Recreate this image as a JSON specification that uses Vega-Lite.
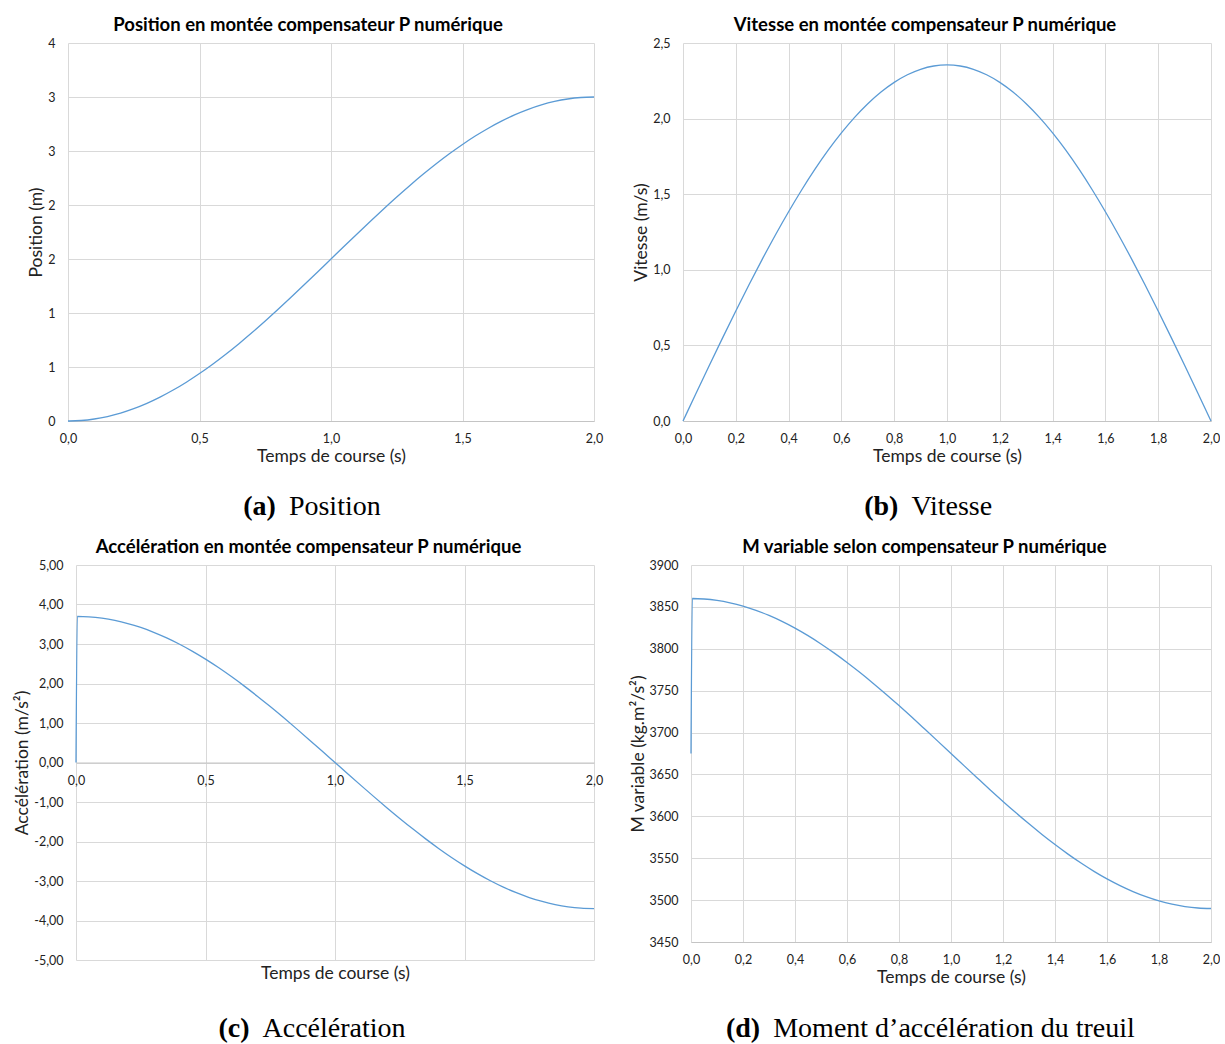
{
  "$schema": "https://vega.github.io/schema/vega-lite/v6.json",
  "autosize": {"type": "pad"},
  "padding": {"left": 13, "top": 15, "right": 0, "bottom": 0},
  "background": "white",
  "datasets": {
    "motion": [
      {"t": 0, "position": 0, "vitesse": 0, "acceleration": 0, "moment": 3675},
      {"t": 0.005, "position": 0.0001, "vitesse": 0.0185, "acceleration": 3.70, "moment": 3860},
      {"t": 0.05, "position": 0.0046, "vitesse": 0.1848, "acceleration": 3.6886, "moment": 3859.4},
      {"t": 0.10, "position": 0.0185, "vitesse": 0.3684, "acceleration": 3.6545, "moment": 3857.7},
      {"t": 0.15, "position": 0.0414, "vitesse": 0.5498, "acceleration": 3.5978, "moment": 3854.9},
      {"t": 0.20, "position": 0.0734, "vitesse": 0.7277, "acceleration": 3.5189, "moment": 3851.0},
      {"t": 0.25, "position": 0.1142, "vitesse": 0.9012, "acceleration": 3.4184, "moment": 3845.9},
      {"t": 0.30, "position": 0.1635, "vitesse": 1.0691, "acceleration": 3.2967, "moment": 3839.8},
      {"t": 0.35, "position": 0.2210, "vitesse": 1.2305, "acceleration": 3.1548, "moment": 3832.7},
      {"t": 0.40, "position": 0.2865, "vitesse": 1.3842, "acceleration": 2.9934, "moment": 3824.7},
      {"t": 0.45, "position": 0.3594, "vitesse": 1.5295, "acceleration": 2.8135, "moment": 3815.7},
      {"t": 0.50, "position": 0.4393, "vitesse": 1.6652, "acceleration": 2.6163, "moment": 3805.8},
      {"t": 0.55, "position": 0.5258, "vitesse": 1.7908, "acceleration": 2.4030, "moment": 3795.1},
      {"t": 0.60, "position": 0.6183, "vitesse": 1.9052, "acceleration": 2.1748, "moment": 3783.7},
      {"t": 0.65, "position": 0.7163, "vitesse": 2.0080, "acceleration": 1.9333, "moment": 3771.7},
      {"t": 0.70, "position": 0.8190, "vitesse": 2.0983, "acceleration": 1.6798, "moment": 3759.0},
      {"t": 0.75, "position": 0.9260, "vitesse": 2.1757, "acceleration": 1.4159, "moment": 3745.8},
      {"t": 0.80, "position": 1.0365, "vitesse": 2.2397, "acceleration": 1.1434, "moment": 3732.2},
      {"t": 0.85, "position": 1.1498, "vitesse": 2.2899, "acceleration": 0.8638, "moment": 3718.2},
      {"t": 0.90, "position": 1.2654, "vitesse": 2.3260, "acceleration": 0.5788, "moment": 3703.9},
      {"t": 0.95, "position": 1.3823, "vitesse": 2.3478, "acceleration": 0.2903, "moment": 3689.5},
      {"t": 1.00, "position": 1.5000, "vitesse": 2.3550, "acceleration": 0.0, "moment": 3675.0},
      {"t": 1.05, "position": 1.6177, "vitesse": 2.3478, "acceleration": -0.2903, "moment": 3660.5},
      {"t": 1.10, "position": 1.7346, "vitesse": 2.3260, "acceleration": -0.5788, "moment": 3646.1},
      {"t": 1.15, "position": 1.8502, "vitesse": 2.2899, "acceleration": -0.8638, "moment": 3631.8},
      {"t": 1.20, "position": 1.9635, "vitesse": 2.2397, "acceleration": -1.1434, "moment": 3617.8},
      {"t": 1.25, "position": 2.0740, "vitesse": 2.1757, "acceleration": -1.4159, "moment": 3604.2},
      {"t": 1.30, "position": 2.1810, "vitesse": 2.0983, "acceleration": -1.6798, "moment": 3591.0},
      {"t": 1.35, "position": 2.2838, "vitesse": 2.0080, "acceleration": -1.9333, "moment": 3578.3},
      {"t": 1.40, "position": 2.3817, "vitesse": 1.9052, "acceleration": -2.1748, "moment": 3566.3},
      {"t": 1.45, "position": 2.4742, "vitesse": 1.7908, "acceleration": -2.4030, "moment": 3554.9},
      {"t": 1.50, "position": 2.5607, "vitesse": 1.6652, "acceleration": -2.6163, "moment": 3544.2},
      {"t": 1.55, "position": 2.6406, "vitesse": 1.5295, "acceleration": -2.8135, "moment": 3534.3},
      {"t": 1.60, "position": 2.7135, "vitesse": 1.3842, "acceleration": -2.9934, "moment": 3525.3},
      {"t": 1.65, "position": 2.7790, "vitesse": 1.2305, "acceleration": -3.1548, "moment": 3517.3},
      {"t": 1.70, "position": 2.8365, "vitesse": 1.0691, "acceleration": -3.2967, "moment": 3510.2},
      {"t": 1.75, "position": 2.8858, "vitesse": 0.9012, "acceleration": -3.4184, "moment": 3504.1},
      {"t": 1.80, "position": 2.9266, "vitesse": 0.7277, "acceleration": -3.5189, "moment": 3499.0},
      {"t": 1.85, "position": 2.9586, "vitesse": 0.5498, "acceleration": -3.5978, "moment": 3495.1},
      {"t": 1.90, "position": 2.9815, "vitesse": 0.3684, "acceleration": -3.6545, "moment": 3492.3},
      {"t": 1.95, "position": 2.9954, "vitesse": 0.1848, "acceleration": -3.6886, "moment": 3490.6},
      {"t": 2.00, "position": 3.0000, "vitesse": 0.0, "acceleration": -3.7000, "moment": 3490.0}
    ]
  },
  "columns": 2,
  "bounds": "flush",
  "spacing": {"row": 10, "column": 89},
  "concat": [
    {
      "width": 526, "height": 378,
      "data": {"name": "motion"},
      "title": {"text": "Position en montée compensateur P numérique", "dx": -23},
      "mark": {"type": "line", "color": "#5b9bd5", "strokeWidth": 1.3, "interpolate": "monotone"},
      "encoding": {
        "x": {"field": "t", "type": "quantitative", "scale": {"domain": [0, 2], "nice": false},
              "axis": {"values": [0, 0.5, 1, 1.5, 2], "format": ".1f", "title": "Temps de course (s)"}},
        "y": {"field": "position", "type": "quantitative", "scale": {"domain": [0, 3.5], "nice": false},
              "axis": {"values": [0, 0.5, 1, 1.5, 2, 2.5, 3, 3.5], "format": ".0f", "title": "Position (m)"}}
      }
    },
    {
      "width": 528, "height": 378,
      "data": {"name": "motion"},
      "title": {"text": "Vitesse en montée compensateur P numérique", "dx": -22},
      "mark": {"type": "line", "color": "#5b9bd5", "strokeWidth": 1.3, "interpolate": "monotone"},
      "encoding": {
        "x": {"field": "t", "type": "quantitative", "scale": {"domain": [0, 2], "nice": false},
              "axis": {"values": [0, 0.2, 0.4, 0.6, 0.8, 1, 1.2, 1.4, 1.6, 1.8, 2], "format": ".1f", "title": "Temps de course (s)"}},
        "y": {"field": "vitesse", "type": "quantitative", "scale": {"domain": [0, 2.5], "nice": false},
              "axis": {"values": [0, 0.5, 1, 1.5, 2, 2.5], "format": ".1f", "title": "Vitesse (m/s)"}}
      }
    },
    {
      "width": 526, "height": 124,
      "layer": [
        {"data": {"values": [{"label": "(a)"}]},
         "mark": {"type": "text", "align": "right", "baseline": "middle", "dx": -55.1, "dy": 14, "font": "Liberation Serif", "fontSize": 28, "fontWeight": "bold", "color": "#000"},
         "encoding": {"text": {"field": "label"}}},
        {"data": {"values": [{"label": "Position"}]},
         "mark": {"type": "text", "align": "left", "baseline": "middle", "dx": -42.1, "dy": 14, "font": "Liberation Serif", "fontSize": 28, "color": "#000"},
         "encoding": {"text": {"field": "label"}}}
      ]
    },
    {
      "width": 528, "height": 124,
      "layer": [
        {"data": {"values": [{"label": "(b)"}]},
         "mark": {"type": "text", "align": "right", "baseline": "middle", "dx": -48.6, "dy": 14, "font": "Liberation Serif", "fontSize": 28, "fontWeight": "bold", "color": "#000"},
         "encoding": {"text": {"field": "label"}}},
        {"data": {"values": [{"label": "Vitesse"}]},
         "mark": {"type": "text", "align": "left", "baseline": "middle", "dx": -35.6, "dy": 14, "font": "Liberation Serif", "fontSize": 28, "color": "#000"},
         "encoding": {"text": {"field": "label"}}}
      ]
    },
    {
      "width": 526, "height": 395,
      "data": {"name": "motion"},
      "title": {"text": "Accélération en montée compensateur P numérique", "dx": -22.5},
      "mark": {"type": "line", "color": "#5b9bd5", "strokeWidth": 1.3, "interpolate": "monotone"},
      "encoding": {
        "x": {"field": "t", "type": "quantitative", "scale": {"domain": [0, 2], "nice": false, "range": [8, 526]},
              "axis": {"values": [0, 0.5, 1, 1.5, 2], "format": ".1f", "title": "Temps de course (s)", "offset": -197.5, "titleY": 210.5, "titleBaseline": "middle"}},
        "y": {"field": "acceleration", "type": "quantitative", "scale": {"domain": [-5, 5], "nice": false},
              "axis": {"values": [-5, -4, -3, -2, -1, 0, 1, 2, 3, 4, 5], "format": ".2f", "title": "Accélération (m/s²)", "labelPadding": 5}}
      }
    },
    {
      "width": 528, "height": 377,
      "data": {"name": "motion"},
      "title": {"text": "M variable selon compensateur P numérique", "dx": -22.5},
      "mark": {"type": "line", "color": "#5b9bd5", "strokeWidth": 1.3, "interpolate": "monotone"},
      "encoding": {
        "x": {"field": "t", "type": "quantitative", "scale": {"domain": [0, 2], "nice": false, "range": [8, 528]},
              "axis": {"values": [0, 0.2, 0.4, 0.6, 0.8, 1, 1.2, 1.4, 1.6, 1.8, 2], "format": ".1f", "title": "Temps de course (s)"}},
        "y": {"field": "moment", "type": "quantitative", "scale": {"domain": [3450, 3900], "nice": false, "zero": false},
              "axis": {"values": [3450, 3500, 3550, 3600, 3650, 3700, 3750, 3800, 3850, 3900], "format": "d", "title": "M variable (kg.m²/s²)", "labelPadding": 5}}
      }
    },
    {
      "width": 526, "height": 70,
      "layer": [
        {"data": {"values": [{"label": "(c)"}]},
         "mark": {"type": "text", "align": "right", "baseline": "middle", "dx": -81.5, "dy": 24, "font": "Liberation Serif", "fontSize": 28, "fontWeight": "bold", "color": "#000"},
         "encoding": {"text": {"field": "label"}}},
        {"data": {"values": [{"label": "Accélération"}]},
         "mark": {"type": "text", "align": "left", "baseline": "middle", "dx": -68.5, "dy": 24, "font": "Liberation Serif", "fontSize": 28, "color": "#000"},
         "encoding": {"text": {"field": "label"}}}
      ]
    },
    {
      "width": 528, "height": 70,
      "layer": [
        {"data": {"values": [{"label": "(d)"}]},
         "mark": {"type": "text", "align": "right", "baseline": "middle", "dx": -186.8, "dy": 24, "font": "Liberation Serif", "fontSize": 28, "fontWeight": "bold", "color": "#000"},
         "encoding": {"text": {"field": "label"}}},
        {"data": {"values": [{"label": "Moment d’accélération du treuil"}]},
         "mark": {"type": "text", "align": "left", "baseline": "middle", "dx": -173.8, "dy": 24, "font": "Liberation Serif", "fontSize": 28, "color": "#000"},
         "encoding": {"text": {"field": "label"}}}
      ]
    }
  ],
  "config": {
    "view": {"stroke": null},
    "font": "Lato",
    "locale": {"number": {"decimal": ",", "thousands": " ", "grouping": [3], "currency": ["", " €"], "minus": "-"}},
    "axis": {
      "grid": true, "gridColor": "#d9d9d9", "gridWidth": 1,
      "domainColor": "#c4c4c4", "ticks": false,
      "labelFont": "Lato", "labelFontSize": 12.5, "labelColor": "#222", "labelFlush": false, "labelOverlap": false,
      "titleFont": "Lato", "titleFontSize": 17.5, "titleFontWeight": "normal", "titleColor": "#222"
    },
    "axisX": {"labelPadding": 11.5, "titlePadding": 2},
    "axisY": {"domain": false, "labelPadding": 13, "titlePadding": 2},
    "title": {"font": "Lato", "fontSize": 18.5, "fontWeight": "bold", "color": "#000", "anchor": "middle", "offset": 3}
  }
}
